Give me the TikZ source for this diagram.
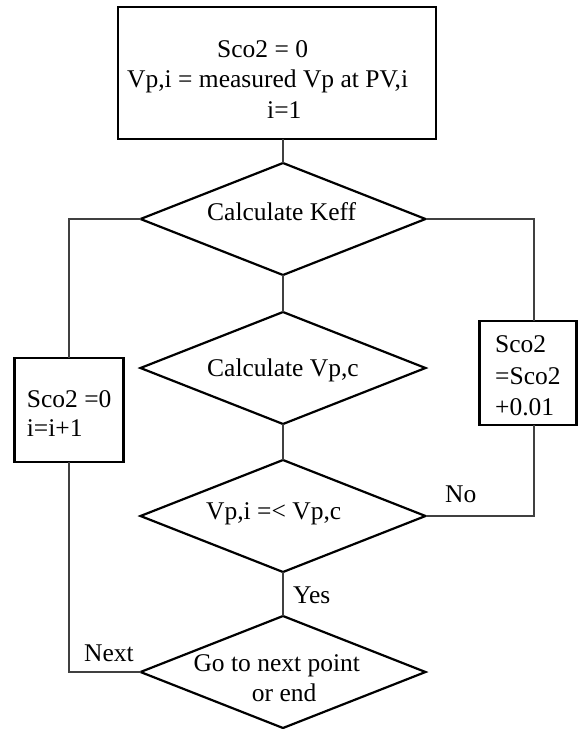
\documentclass[tikz,border=0pt]{standalone}
\usepackage{fontspec}
\setmainfont{Liberation Serif}
\usetikzlibrary{shapes.geometric}
\begin{document}
\begin{tikzpicture}[x=1pt,y=-1pt,
  box/.style={draw, line width=2.5pt, rectangle, inner sep=0pt, outer sep=0pt},
  dia/.style={draw, line width=2.2pt, diamond, inner sep=0pt, outer sep=0pt, minimum width=285pt, minimum height=112pt},
  txt/.style={anchor=base west, inner sep=0pt, font=\fontsize{25.5}{30}\selectfont},
  conn/.style={draw=black!75, line width=1.2pt},
]
\useasboundingbox (0,0) rectangle (578,729);
% boxes
\node[box, minimum width=318pt, minimum height=132pt] (init) at (277,73) {};
\node[box, minimum width=109pt, minimum height=104pt] (lb) at (69,410) {};
\node[box, minimum width=97pt, minimum height=104pt] (rb) at (527.75,373) {};
% diamonds
\node[dia] (k) at (283,219) {};
\node[dia] (vc) at (283,368) {};
\node[dia] (cmp) at (283,516) {};
\node[dia] (go) at (283,672) {};
\coordinate (rx) at (534,0);
% texts
\node[txt] (t1) at (217,57) {Sco2 = 0};
\node[txt] (t2) at (127,87.5) {Vp,i = measured Vp at PV,i};
\node[txt] (t3) at (267,118) {i=1};
\node[txt] (tk) at (207,220.5) {Calculate Keff};
\node[txt] (tv) at (207,376) {Calculate Vp,c};
\node[txt] (tc) at (206,519.3) {Vp,i =< Vp,c};
\node[txt] (tg1) at (193.3,671.7) {Go to next point};
\node[txt] (tg2) at (251.7,701.7) {or end};
\node[txt] (tl1) at (26.7,407.3) {Sco2 =0};
\node[txt] (tl2) at (26.7,436.7) {i=i+1};
\node[txt] (tr1) at (495,352.7) {Sco2};
\node[txt] (tr2) at (495,384) {=Sco2};
\node[txt] (tr3) at (495,415) {+0.01};
\node[txt] (tnext) at (84,661.7) {Next};
\node[txt] (tyes) at (293,603.3) {Yes};
\node[txt] (tno) at (445,502.7) {No};
% connectors
\draw[conn] (init.south -| k.north) -- (k.north);
\draw[conn] (k.south) -- (vc.north);
\draw[conn] (vc.south) -- (cmp.north);
\draw[conn] (cmp.south) -- (go.north);
\draw[conn] (k.west) -| (lb.north);
\draw[conn] (lb.south) |- (go.west);
\draw[conn] (k.east) -| (rb.north -| rx);
\draw[conn] (rb.south -| rx) |- (cmp.east);
\end{tikzpicture}
\end{document}
